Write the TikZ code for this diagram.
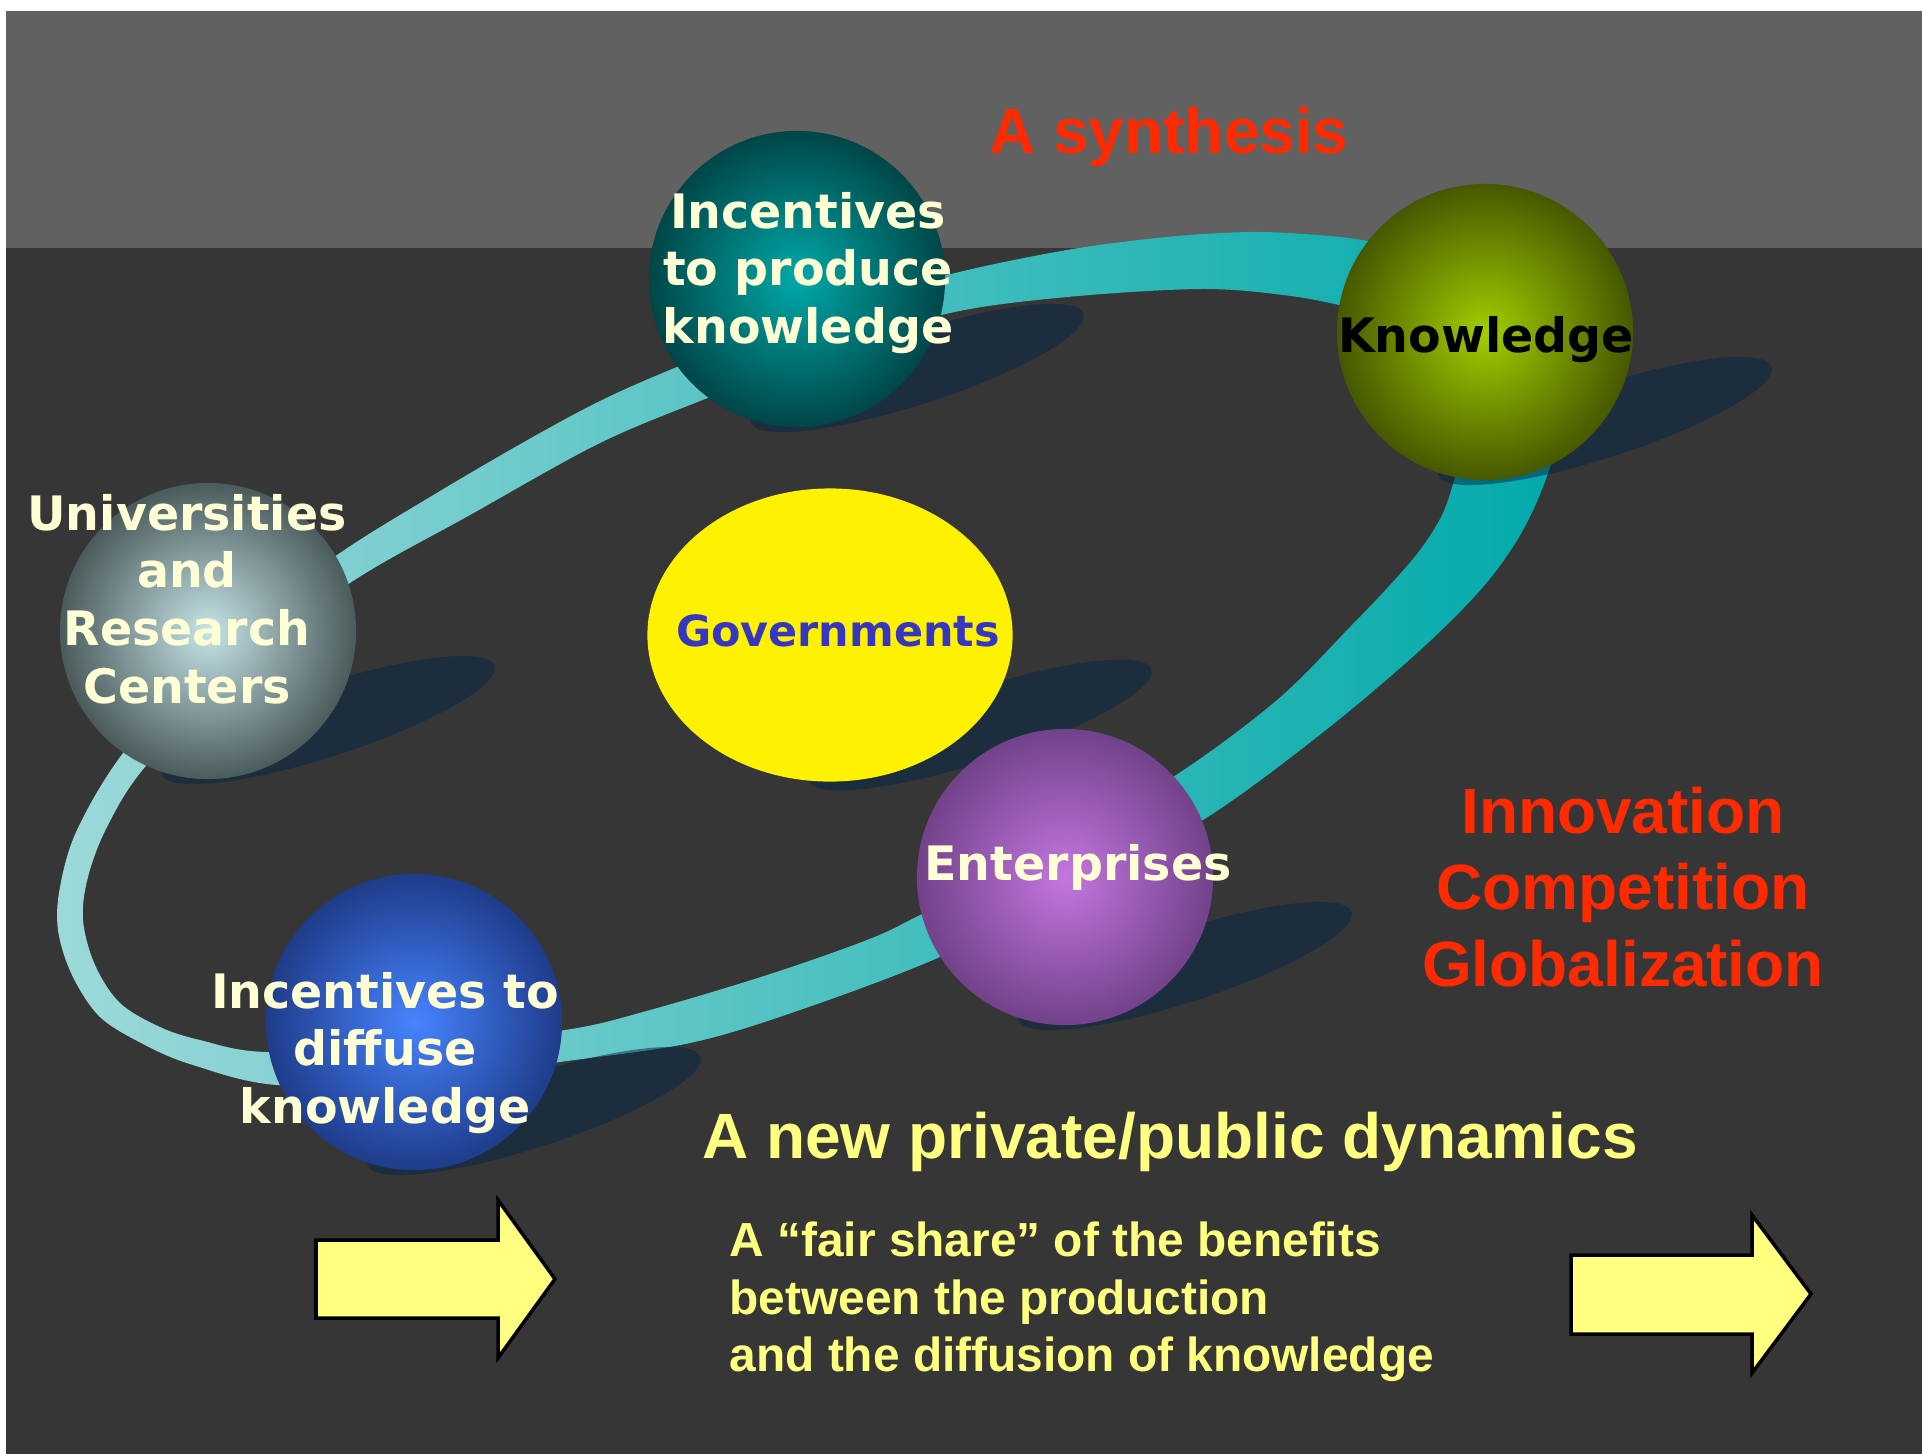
\documentclass[tikz,border=0pt]{standalone}
\usepackage{fontspec}
\setmainfont{Liberation Sans}
\newfontfamily\ballfont{DejaVu Sans}
\usetikzlibrary{calc,shapes.geometric,backgrounds}
\definecolor{topgray}{HTML}{606160}
\definecolor{slate}{HTML}{363636}
\definecolor{ringlight}{HTML}{9DD9D9}
\definecolor{ringmid}{HTML}{6DC3C3}
\definecolor{ringdark}{HTML}{00A9A9}
\definecolor{shadownavy}{RGB}{1,36,72}
\definecolor{cream}{HTML}{FFFFD6}
\definecolor{titlered}{HTML}{FF2A00}
\definecolor{paleyellow}{HTML}{FFFF80}
\definecolor{govblue}{HTML}{3636C0}
% ball centres and rims
\definecolor{univin}{HTML}{C6E4E8}\definecolor{univout}{HTML}{4B5B5B}
\definecolor{prodin}{HTML}{00A9A9}\definecolor{prodout}{HTML}{004647}
\definecolor{knowin}{HTML}{A2CE00}\definecolor{knowout}{HTML}{465800}
\definecolor{entrin}{HTML}{C476E0}\definecolor{entrout}{HTML}{72428A}
\definecolor{diffin}{HTML}{4784FF}\definecolor{diffout}{HTML}{1E3C8A}

\begin{document}
\begin{tikzpicture}[x=0.01cm, y=-0.01cm,
  every node/.style={inner sep=0pt},
  ball/.style={circle, minimum size=2.96cm, inner color=#1in, outer color=#1out},
  blob/.style={ellipse, minimum width=3.5cm, minimum height=0.72cm, rotate=18, fill=shadownavy, fill opacity=0.49},
  balltext/.style={font=\ballfont\bfseries\fontsize{13.5}{16.4}\selectfont, text=cream, align=center},
  headline/.style={font=\bfseries\fontsize{18.2}{21.8}\selectfont, text=titlered},
  notetext/.style={font=\bfseries\fontsize{13.6}{16.4}\selectfont, text=paleyellow, align=left},
  fatarrow/.style={fill=paleyellow, draw=black, line width=1pt, line join=miter}
]
\useasboundingbox (0,0) rectangle (1922,1454);

% the actors
\node[ball=univ] (univ) at (208,631) {};
\node[ball=prod] (prod) at (797,279) {};
\node[ball=know] (know) at (1485,332) {};
\node[ellipse, minimum width=3.65cm, minimum height=2.93cm, fill=yellow] (govt) at (830,635) {};
\node[ball=entr] (entr) at (1065,877) {};
\node[ball=diff] (diff) at (414,1022) {};

\node[balltext] (univ-text) at (187,599) {Universities\\and\\Research\\Centers};
\node[balltext] (prod-text) at (808,273) {Incentives\\to produce\\knowledge};
\node[balltext, text=black] (know-text) at (1486,340) {Knowledge};
\node[balltext, text=govblue, font=\ballfont\bfseries\fontsize{12.2}{14.6}\selectfont] (govt-text) at (838,631) {Governments};
\node[balltext] (entr-text) at (1078,867) {Enterprises};
\node[balltext] (diff-text) at (385,1053) {Incentives to\\diffuse\\knowledge};

% headings and notes
\node[headline, anchor=base] (title) at (1169,153) {A synthesis};
\node[headline, align=center, anchor=north] (forces) at (1623,786) {Innovation\\Competition\\Globalization};
\node[headline, text=paleyellow, anchor=base] (dynamics) at (1170,1158) {A new private/public dynamics};
\node[notetext, anchor=north west] (share) at (729,1221) {A “fair share” of the benefits\\between the production\\and the diffusion of knowledge};

% block arrows
\draw[fatarrow] (316,1240) -- (498,1240) -- (498,1200) -- (555,1279) -- (498,1358) -- (498,1318) -- (316,1318) -- cycle;
\draw[fatarrow] (1571,1255) -- (1752,1255) -- (1752,1215) -- (1811,1294) -- (1752,1373) -- (1752,1334) -- (1571,1334) -- cycle;

\begin{scope}[on background layer]
  \fill[white] (0,0) rectangle (1922,1454);
  \fill[topgray] (6,11) rectangle (1922,248);
  \fill[slate] (6,248) rectangle (1922,1454);
  % the ring running behind all the balls
  \path[even odd rule, left color=ringlight, middle color=ringmid, right color=ringdark]
    plot[smooth cycle, tension=0.55] coordinates {
      (337,555) (430,497) (524,442) (600,401) (677,367) (810,315) (947,275)
      (1067,250) (1167,237) (1250,232) (1317,235) (1373,242) (1480,268)
      (1572,378) (1550,467) (1523,530) (1483,587) (1417,653) (1317,737)
      (1203,820) (1070,892) (940,957) (800,1010) (690,1043) (560,1062)
      (420,1082) (277,1085) (193,1065) (145,1045) (100,1017) (72,975)
      (58,930) (60,887) (77,830) (123,753) (215,645)}
    plot[smooth cycle, tension=0.55] coordinates {
      (350,583) (470,515) (600,443) (710,397) (830,350) (950,313)
      (1067,297) (1200,289) (1283,295) (1347,307) (1430,332) (1474,405)
      (1455,477) (1442,515) (1420,550) (1390,585) (1350,627) (1277,700)
      (1173,777) (1045,850) (920,915) (867,940) (767,975) (650,1010)
      (565,1030) (415,1045) (267,1052) (200,1040) (160,1027) (120,1003)
      (95,965) (83,920) (88,877) (107,827) (145,767) (240,668)};
  % cast shadows
  \foreach \b in {univ,prod,know,entr,diff}
    \node[blob] (\b-shade) at ($(\b)+(120,89)$) {};
  \node[blob, minimum width=3.6cm] (govt-shade) at ($(govt)+(150,90)$) {};
\end{scope}
\end{tikzpicture}
\end{document}
